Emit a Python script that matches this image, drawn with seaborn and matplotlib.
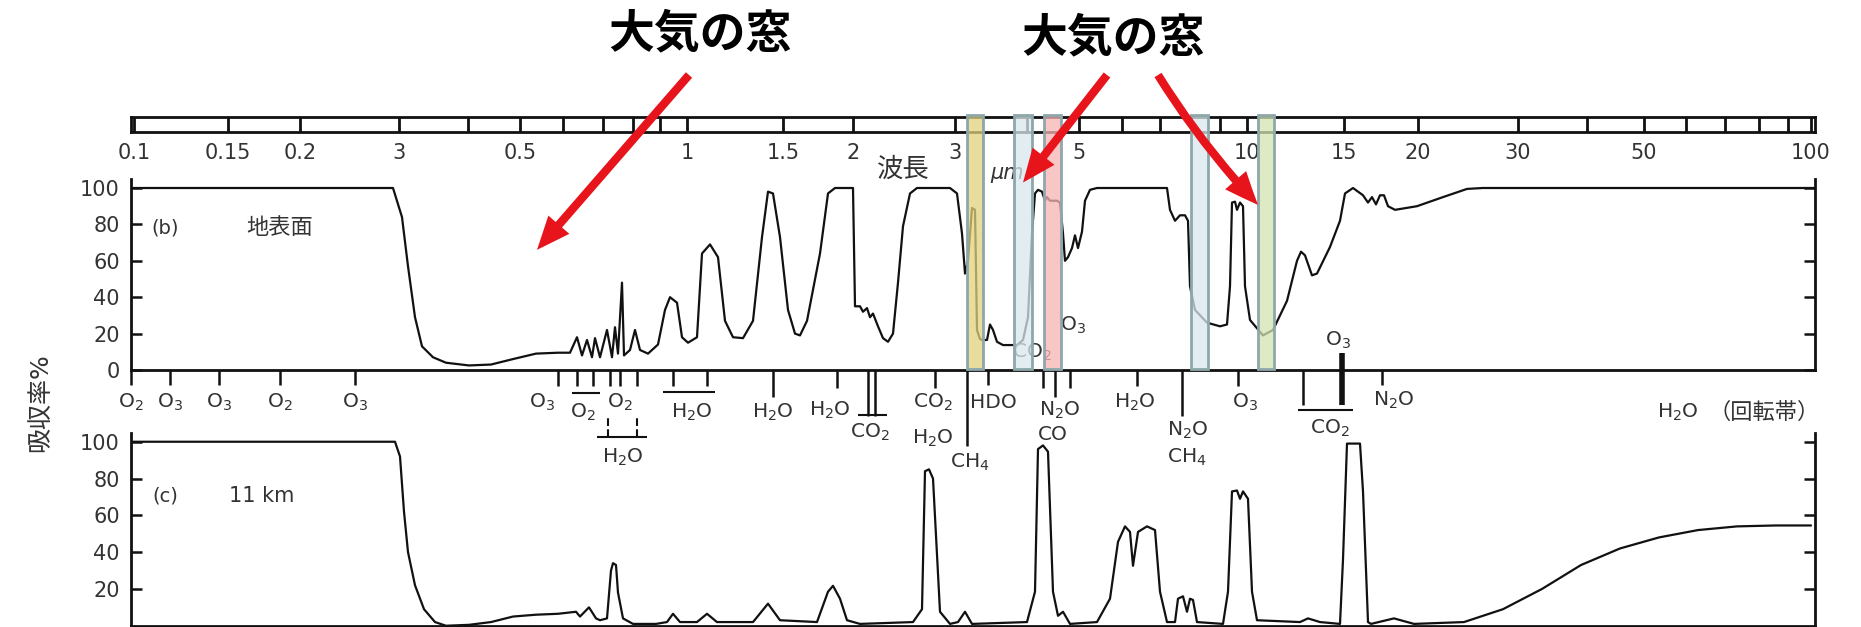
import matplotlib
matplotlib.use('Agg')
import pandas as pd
import seaborn as sns
import matplotlib.pyplot as plt
from matplotlib.colors import to_rgba
from matplotlib.patches import Rectangle, ConnectionPatch
from matplotlib.transforms import blended_transform_factory

## Data
# x = position along the (non uniform) wavelength scale, y = absorption %
ground_x = [132, 393, 402, 408, 415, 422, 433, 446, 469, 491, 513, 536, 558, 570,
            577, 582, 587, 592, 595, 600, 607, 612, 615, 618, 622, 624, 630, 635, 640,
            648, 658, 665, 670, 677, 682, 688, 697, 702, 710, 718, 725, 733, 743, 753,
            762, 768, 773, 780, 788, 795, 800, 807, 820, 828, 835, 853, 855, 860, 863,
            867, 870, 873, 878, 883, 888, 893, 898, 903, 910, 917, 950, 957, 962, 965,
            968, 972, 975, 977, 980, 982, 987, 990, 993, 997, 1003, 1017, 1023, 1028,
            1032, 1035, 1038, 1042, 1045, 1047, 1050, 1057, 1060, 1063, 1065, 1068,
            1072, 1075, 1078, 1082, 1085, 1090, 1097, 1167, 1170, 1175, 1180, 1185,
            1188, 1190, 1195, 1207, 1220, 1227, 1230, 1232, 1235, 1237, 1240, 1243,
            1245, 1250, 1263, 1273, 1287, 1297, 1301, 1305, 1312, 1317, 1330, 1340,
            1345, 1353, 1363, 1368, 1372, 1376, 1380, 1384, 1388, 1395, 1417, 1443,
            1467, 1483, 1815]
ground_y = [100, 100, 84, 57, 29, 13, 7, 4, 2.5, 3, 6, 9, 9.5, 9.5,
            18, 8, 16.5, 7, 17.5, 7, 22, 7, 23.5, 9, 48, 8, 11, 22, 11,
            9, 14, 33, 40, 37, 18, 15, 18, 64, 69, 62, 27, 18, 17.5, 27,
            73, 98, 97, 73, 33, 20, 19, 27, 64, 97, 100, 100, 35, 35, 32,
            34, 29, 31, 24, 17.5, 15.5, 20, 48, 79, 97, 100, 100, 97, 75, 53,
            60, 89, 88, 22, 17, 16.5, 16.5, 25, 22, 15.5, 13.7, 13.7, 16.5, 29,
            75, 97, 99, 98, 93, 95, 93, 93, 92, 75, 60, 62,
            67, 74, 67, 76, 93, 99, 100, 100, 88, 82, 85, 85,
            82, 46, 33, 26, 24, 25, 46, 92, 92.5, 88, 92, 90,
            46, 27.5, 19, 22, 38, 60, 65, 63, 52, 53, 67.6, 82,
            97, 100, 96, 92, 95, 91, 96, 96, 90, 88, 90, 95,
            99.5, 100, 100]

km11_x = [132, 395, 400, 404, 408, 415, 424, 435, 446, 469, 491, 513, 536, 558, 576,
          580, 589, 596, 600, 607, 611, 613, 616, 618, 623, 633, 656, 667, 673, 680,
          697, 707, 717, 753, 768, 780, 817, 828, 833, 840, 847, 860, 913, 922, 925,
          929, 933, 940, 950, 958, 965, 972, 1027, 1035, 1038, 1043, 1048, 1053, 1058,
          1063, 1070, 1097, 1110, 1118, 1125, 1130, 1133, 1138, 1147, 1155, 1160,
          1167, 1175, 1178, 1183, 1187, 1190, 1193, 1197, 1223, 1228, 1232, 1237,
          1240, 1243, 1248, 1252, 1257, 1300, 1308, 1320, 1340, 1343, 1347, 1360,
          1363, 1368, 1371, 1394, 1414, 1464, 1503, 1542, 1581, 1620, 1659, 1698,
          1737, 1776, 1811]
km11_y = [100, 100, 92, 62, 40, 22, 9, 2, 0, 0.5, 2, 5, 6, 6.5, 7.6,
          5, 10, 4, 3, 4, 30, 34, 33, 18, 4, 1, 1, 2, 6.5, 2,
          2, 6.5, 2, 2, 12, 3, 2, 18.5, 21.7, 14.7, 3, 1, 2, 9, 84,
          85, 80, 7.6, 1, 2, 7.6, 1, 2, 18.5, 96, 98, 94.6, 18.5, 5.4,
          7.6, 1, 2, 14.7, 45.6, 54, 51, 32.6, 51, 54, 52, 18.5,
          2, 2, 14.7, 16, 7.6, 14.7, 14, 2, 1, 18.5, 73, 73.5,
          69, 73, 69, 18.5, 3, 2, 4, 2, 1, 36, 99, 99,
          73, 2, 1, 4, 1, 2, 9, 20, 33, 42, 48, 52,
          54, 54.5, 54.5]

# wavelength ruler (labels as printed, incl. the "3" for 0.3)
ruler_pos = [134, 228, 300, 399, 520, 687, 783, 853, 955, 1079, 1247, 1344, 1418,
             1518, 1644, 1811]
ruler_labels = ['0.1', '0.15', '0.2', '3', '0.5', '1', '1.5', '2', '3', '5', '10',
                '15', '20', '30', '50', '100']
ruler_minor = [468, 563, 603, 633, 660, 1027, 1122, 1160, 1220, 1587, 1686, 1725,
               1759, 1788]

# absorption band marks under the ground panel
band_x = [131, 170, 219, 280, 355, 558, 577, 593, 610, 620, 637, 673, 707, 773, 837,
          868, 875, 935, 967, 988, 1043, 1055, 1070, 1137, 1182, 1238, 1303, 1382]
band_end = [-8, -8, -8, -8, -8, -9, -9, -9, -9, -9, -9, -9, -9, -15, -10,
            -25, -25, -10, -42, -8, -10, -15, -10, -9, -25, -9, -19, -8]

mol_x = [131, 170, 219, 280, 355, 542, 583, 620, 692, 623, 773, 830, 870, 933, 933,
         993, 1060, 1053, 970, 1135, 1188, 1187, 1245, 1330, 1394, 1678]
mol_y = [-17.6, -17.6, -17.6, -17.6, -17.6, -18, -23.5, -18, -23, -48, -23, -22, -34,
         -17.6, -37.4, -17.6, -22, -35.7, -51, -17.6, -33, -47.8, -18, -32, -16.5, -23]
mol_text = ['O$_2$', 'O$_3$', 'O$_3$', 'O$_2$', 'O$_3$', 'O$_3$', 'O$_2$', 'O$_2$',
            'H$_2$O', 'H$_2$O', 'H$_2$O', 'H$_2$O', 'CO$_2$', 'CO$_2$', 'H$_2$O', 'HDO',
            'N$_2$O', 'CO', 'CH$_4$', 'H$_2$O', 'N$_2$O', 'CH$_4$', 'O$_3$', 'CO$_2$',
            'N$_2$O', 'H$_2$O']

brace_y = [-12.6, -36.8, -12.1, -24.7, -22]
brace_from = [572, 597, 663, 858, 1298]
brace_to = [600, 647, 715, 887, 1353]

# highlighted "windows"
window_left = [967, 1014, 1044, 1191, 1258]
window_right = [983, 1032, 1061, 1208, 1274]
window_colors = ['#e2d27e', '#d9e8ee', '#f7b4b4', '#d9e8ee', '#d3e3b0']

sns.set_theme(style='white')
plt.rcParams['font.family'] = ['DejaVu Sans', 'Noto Sans CJK JP']
plt.rcParams['mathtext.fontset'] = 'dejavusans'

W, H = 1861, 627
fig = plt.figure(figsize=(W / 100, H / 100), dpi=100)
fig.patch.set_facecolor('white')

x_lo, x_hi = 131, 1815
left = x_lo / W
width = (x_hi - x_lo) / W
ink = '#111111'
gray = '#333333'
lab = 14.5

ax_r = fig.add_axes([left, 1 - 132 / H, width, 15 / H])
ax_b = fig.add_axes([left, 1 - 370 / H, width, 105 * 1.82 / H])
ax_c = fig.add_axes([left, 0.002, width, 105 * 1.84 / H])
for ax in (ax_r, ax_b, ax_c):
    ax.set_xlim(x_lo, x_hi)
    ax.patch.set_visible(False)

# ruler
ax_r.set_ylim(0, 1)
ax_r.set_yticks([])
ax_r.set_xticks(ruler_pos)
ax_r.set_xticklabels(ruler_labels)
ax_r.set_xticks(ruler_minor, minor=True)
ax_r.tick_params(axis='x', which='both', direction='in', length=10.8, width=2,
                 bottom=True, top=False, color=ink, pad=8, labelsize=15,
                 labelcolor=gray)
for s in ax_r.spines.values():
    s.set_linewidth(2)
    s.set_color(ink)

# curves
sns.lineplot(data=pd.DataFrame({'x': ground_x, 'y': ground_y}), x='x', y='y', ax=ax_b,
             color=ink, linewidth=1.6, sort=False, estimator=None)
sns.lineplot(data=pd.DataFrame({'x': km11_x, 'y': km11_y}), x='x', y='y', ax=ax_c,
             color=ink, linewidth=1.6, sort=False, estimator=None)

for ax, ticks in ((ax_b, [0, 20, 40, 60, 80, 100]), (ax_c, [20, 40, 60, 80, 100])):
    ax.set_ylim(0, 105)
    ax.set_xlabel('')
    ax.set_ylabel('')
    ax.set_xticks([])
    ax.set_yticks(ticks)
    ax.tick_params(axis='y', direction='in', length=8, width=1.8, left=True,
                   right=True, color=ink, labelsize=15, labelcolor=gray, pad=8)
    ax.spines['top'].set_visible(False)
    for k in ('left', 'right', 'bottom'):
        ax.spines[k].set_linewidth(2)
        ax.spines[k].set_color(ink)

# band marks and molecule names
ax_b.vlines(band_x, band_end, 0, color=ink, lw=1.8, clip_on=False)
ax_b.vlines(1342, -19, 9.3, color=ink, lw=4, clip_on=False)
ax_b.vlines([608, 637], -36.8, -25, color=ink, lw=1.5, linestyles='--', clip_on=False)
ax_b.hlines(brace_y, brace_from, brace_to, color=ink, lw=1.5, clip_on=False)
for x, y, t in zip(mol_x, mol_y, mol_text):
    ax_b.text(x, y, t, ha='center', va='center', fontsize=lab, color=gray)
ax_b.text(1073, 24.7, 'O$_3$', ha='center', va='center', fontsize=lab, color=gray)
ax_b.text(1032, 9.9, 'CO$_2$', ha='center', va='center', fontsize=lab, color=gray)
ax_b.text(1338, 16.5, 'O$_3$', ha='center', va='center', fontsize=lab, color=gray)
ax_b.text(1708, -23, '（回転帯）', ha='left', va='center', fontsize=16, color=gray,
          family=['Noto Sans CJK JP', 'DejaVu Sans'])

ax_b.text(165, 78, '(b)', ha='center', va='center', fontsize=14, color=gray)
ax_b.text(280, 78, '地表面', ha='center', va='center', fontsize=16, color=gray)
ax_c.text(165, 70.7, '(c)', ha='center', va='center', fontsize=14, color=gray)
ax_c.text(262, 70.7, '11 km', ha='center', va='center', fontsize=15, color=gray)
ax_b.text(903, 110, '波長', ha='center', va='center', fontsize=19, color=gray)
ax_b.text(1007, 108, 'μm', ha='center', va='center', fontsize=15, color=gray,
          style='italic')

fig.text(40 / W, 1 - 403 / H, '吸収率%', rotation=90, ha='center', va='center',
         fontsize=18, color=gray)

# windows
trans = blended_transform_factory(ax_b.transData, fig.transFigure)
for l, r, c in zip(window_left, window_right, window_colors):
    rect = Rectangle((l, 1 - 369 / H), r - l, (369 - 115) / H, transform=trans,
                     facecolor=to_rgba(c, 0.75), edgecolor='#8ea7aa', lw=2,
                     zorder=5, clip_on=False)
    fig.add_artist(rect)

# titles and arrows
title_kw = dict(ha='center', va='center', fontsize=33, fontweight='bold',
                family=['Noto Sans CJK JP'], color='black')
fig.text(700 / W, 1 - 34 / H, '大気の窓', **title_kw)
fig.text(1113 / W, 1 - 38 / H, '大気の窓', **title_kw)

arrow_start = [(689, 75), (1107, 75), (1158, 75)]
arrow_tip = [(537, 66), (1023, 103), (1258, 90.7)]
arrow_rad = [0, 0, 0.05]
for (sx, sy), tip, rad in zip(arrow_start, arrow_tip, arrow_rad):
    con = ConnectionPatch(xyA=(sx / W, 1 - sy / H), coordsA='figure fraction',
                          xyB=tip, coordsB='data', axesB=ax_b,
                          arrowstyle='simple,head_length=1.2,head_width=1.0,tail_width=0.3',
                          connectionstyle=f'arc3,rad={rad}', mutation_scale=20,
                          facecolor='#e8141c', edgecolor='none', zorder=7)
    fig.add_artist(con)

fig.savefig('out.png', dpi=100)
